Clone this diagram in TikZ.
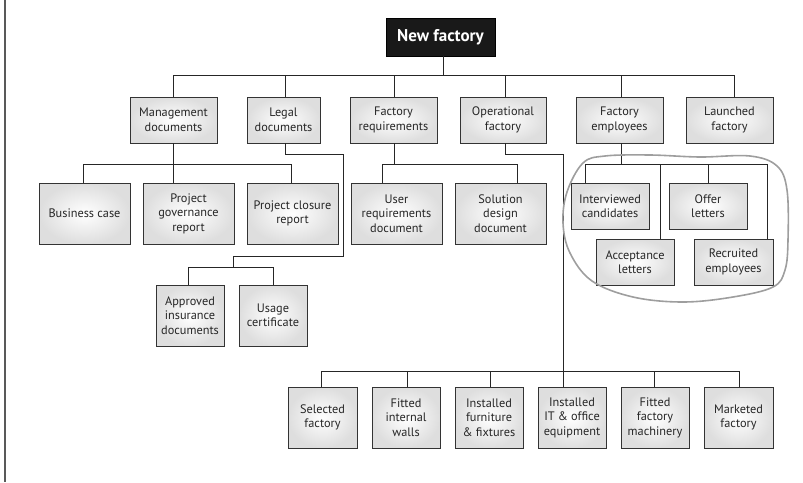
\documentclass[tikz,border=0pt]{standalone}
\usepackage{fontspec}
\setmainfont{PT Sans}
\begin{document}
\begin{tikzpicture}[x=1pt,y=-1pt,
  box/.style={draw=black!80, line width=0.9pt, inner color=white, outer color=black!13,
    align=center, font=\fontsize{12.3}{14.5}\selectfont, text=black!85, inner sep=1pt},
  wire/.style={line width=0.9pt, draw=black!85},
  blob/.style={draw=black!38, line width=1.6pt},
  rootbox/.style={fill=black!90, draw=black, text=white, font=\fontsize{17}{20}\selectfont\bfseries,
    minimum width=109pt, minimum height=38pt, inner sep=1pt}
]
\useasboundingbox (0,0) rectangle (803,482);
\draw[line width=1.6pt, black!65] (5,0) -- (5,482);

% root
\node[rootbox] (root) at (440.5,37) {New factory};

% level 1
\node[box, minimum width=87pt, minimum height=46pt] (md) at (173.5,120) {Management\\documents};
\node[box, minimum width=73pt, minimum height=46pt] (ld) at (283.5,120) {Legal\\documents};
\node[box, minimum width=87pt, minimum height=46pt] (fr) at (393.5,120) {Factory\\requirements};
\node[box, minimum width=86pt, minimum height=46pt] (of) at (503,120) {Operational\\factory};
\node[box, minimum width=87pt, minimum height=46pt] (fe) at (619.5,120) {Factory\\employees};
\node[box, minimum width=87pt, minimum height=46pt] (lf) at (729.5,120) {Launched\\factory};

% level 2
\node[box, minimum width=91pt, minimum height=61pt] (bc) at (84.5,213.5) {Business case};
\node[box, minimum width=91pt, minimum height=61pt] (pg) at (188.5,213.5) {Project\\governance\\report};
\node[box, minimum width=91pt, minimum height=61pt] (pc) at (292.5,213.5) {Project closure\\report};
\node[box, minimum width=91pt, minimum height=61pt] (ur) at (396.5,213.5) {User\\requirements\\document};
\node[box, minimum width=91pt, minimum height=61pt] (sd) at (500.5,213.5) {Solution\\design\\document};

% legal children
\node[box, minimum width=68pt, minimum height=61pt] (ai) at (190,315.5) {Approved\\insurance\\documents};
\node[box, minimum width=68pt, minimum height=61pt] (uc) at (273,315.5) {Usage\\certificate};

% employees
\node[box, minimum width=78pt, minimum height=46pt] (ic) at (610,206) {Interviewed\\candidates};
\node[box, minimum width=78pt, minimum height=46pt] (ol) at (708,206) {Offer\\letters};
\node[box, minimum width=78pt, minimum height=46pt] (al) at (635,262) {Acceptance\\letters};
\node[box, minimum width=79pt, minimum height=46pt] (re) at (733.5,262) {Recruited\\employees};

% operational children
\node[box, minimum width=69pt, minimum height=61pt] (sf) at (322.5,417.5) {Selected\\factory};
\node[box, minimum width=68pt, minimum height=61pt] (fw) at (406,417.5) {Fitted\\internal\\walls};
\node[box, minimum width=68pt, minimum height=61pt] (ff) at (489,417.5) {Installed\\furniture\\\& fixtures};
\node[box, minimum width=68pt, minimum height=61pt] (ie) at (572,417.5) {Installed\\IT \& office\\equipment};
\node[box, minimum width=68pt, minimum height=61pt] (fm) at (655,417.5) {Fitted\\factory\\machinery};
\node[box, minimum width=69pt, minimum height=61pt] (mf) at (738.5,417.5) {Marketed\\factory};

% root bus
\coordinate (rb) at (443,75);
\draw[wire] (443,0 |- root.south) -- (rb);
\draw[wire] (173,75) -- (734,75);
\foreach \n/\x in {md/173, ld/285, fr/394, of/505, fe/621, lf/734}
  \draw[wire] (\x,75) -- (\x,75 |- \n.north);

% management bus
\draw[wire] (173,0 |- md.south) -- (173,164);
\draw[wire] (83,164) -- (291,164);
\foreach \n/\x in {bc/83, pg/173, pc/291}
  \draw[wire] (\x,164) -- (\x,164 |- \n.north);

% factory requirements bus
\draw[wire] (394,0 |- fr.south) -- (394,164);
\draw[wire] (382,164) -- (517,164);
\foreach \n/\x in {ur/382, sd/517}
  \draw[wire] (\x,164) -- (\x,164 |- \n.north);

% legal
\draw[wire] (285,0 |- ld.south) -- (285,154) -- (343,154) -- (343,256) -- (233,256) -- (233,267);
\draw[wire] (188,267) -- (273,267);
\foreach \n/\x in {ai/188, uc/273}
  \draw[wire] (\x,267) -- (\x,267 |- \n.north);

% employees
\draw[wire] (621,0 |- fe.south) -- (621,164);
\draw[wire] (585,164) -- (767,164);
\foreach \n/\x in {ic/585, ol/708, al/660, re/767}
  \draw[wire] (\x,164) -- (\x,164 |- \n.north);

% operational
\draw[wire] (505,0 |- of.south) -- (505,154) -- (563,154) -- (563,371);
\draw[wire] (321,371) -- (739,371);
\foreach \n/\x in {sf/321, fw/407, ff/490, ie/563, fm/654, mf/739}
  \draw[wire] (\x,371) -- (\x,371 |- \n.north);

% blob around employees
\draw[blob] plot[smooth cycle, tension=0.6] coordinates {
  (583,163) (605,156) (650,155) (700,157) (750,156) (777,166) (787,190)
  (788,240) (785,270) (773,287) (733,297) (683,302) (633,297) (592,281)
  (570,253) (563,223) (567,192)};
\end{tikzpicture}
\end{document}
